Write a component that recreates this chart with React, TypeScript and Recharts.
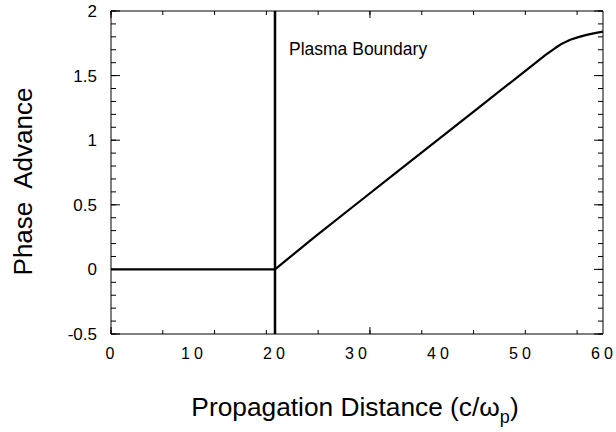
import React from "react";
import { LineChart, Line, XAxis, YAxis, ReferenceLine } from "recharts";

// propagation distance (c/ωp) and phase advance
const distance = [0, 10, 20, 25, 30, 35, 40, 45, 50, 52, 53, 54, 54.5, 55, 55.5, 56, 57, 58, 59, 60];
const phase = [0, 0, 0, 0.26, 0.51, 0.76, 1.01, 1.26, 1.51, 1.61, 1.66, 1.705, 1.727, 1.747, 1.763, 1.777, 1.798, 1.815, 1.829, 1.84];

const xTicks = [0, 10, 20, 30, 40, 50, 60];
const yTicks = [-0.5, 0, 0.5, 1, 1.5, 2];
const xMinorTicks = [0, 2, 4, 6, 8, 10, 12, 14, 16, 18, 20, 22, 24, 26, 28, 30, 32, 34, 36, 38, 40, 42, 44, 46, 48, 50, 52, 54, 56, 58, 60];
const yMinorTicks = [-0.5, -0.4, -0.3, -0.2, -0.1, 0, 0.1, 0.2, 0.3, 0.4, 0.5, 0.6, 0.7, 0.8, 0.9, 1, 1.1, 1.2, 1.3, 1.4, 1.5, 1.6, 1.7, 1.8, 1.9, 2];

const boundaryAt = 20;
const boundaryLabel = "Plasma Boundary";

const data = distance.map((x, i) => ({ x, phase: phase[i] }));

const FONT = "'Liberation Sans', Arial, Helvetica, sans-serif";
const X_DOMAIN: [number, number] = [0, 60];
const Y_DOMAIN: [number, number] = [-0.5, 2];
// CartesianAxis skips drawing at size 0, so the tick-only axes get a hairline size
const THIN = 0.01;

// draws nothing; keeps the tick lines of the mark-only axes
const NoLabel = () => <g />;

function XTick(props: any) {
  const { x, y, payload } = props;
  return (
    <text x={x + 1} y={y} dy="0.71em" textAnchor="middle" fontSize={16} fontFamily={FONT} fill="#000" letterSpacing={4}>
      {payload.value}
    </text>
  );
}

function XTitle(props: any) {
  const { x, y, width } = props.viewBox;
  return (
    <text x={x + width / 2 - 2} y={y + 82} textAnchor="middle" fontSize={26.3} fontFamily={FONT} fill="#000">
      <tspan>Propagation Distance (c/ω</tspan>
      <tspan fontSize={18} dy={7}>p</tspan>
      <tspan dy={-7}>)</tspan>
    </text>
  );
}

function YTitle(props: any) {
  const { y, height } = props.viewBox;
  const cx = 32;
  const cy = y + height / 2 + 9;
  return (
    <text x={cx} y={cy} transform={`rotate(-90, ${cx}, ${cy})`} textAnchor="middle" fontSize={26} fontFamily={FONT} fill="#000" style={{ whiteSpace: "pre" }}>
      {"Phase  Advance"}
    </text>
  );
}

function BoundaryLabel(props: any) {
  const { x, y } = props.viewBox;
  return (
    <text x={x + 14} y={y + 44} fontSize={17.5} fontFamily={FONT} fill="#000">
      {boundaryLabel}
    </text>
  );
}

const tickMark = { stroke: "#000", strokeWidth: 1 };
const frame = { stroke: "#000", strokeWidth: 1 };

export default function App() {
  return (
    <div style={{ position: "absolute", left: 0, top: 0, background: "#fff" }}>
      <LineChart width={616} height={432} data={data} margin={{ top: 11, right: 13, left: 0, bottom: 0 }}>
        {/* main axes with labels */}
        <XAxis
          xAxisId="x"
          dataKey="x"
          type="number"
          domain={X_DOMAIN}
          allowDataOverflow
          ticks={xTicks}
          interval={0}
          height={98}
          tickLine={false}
          tickMargin={8}
          axisLine={frame}
          tick={<XTick />}
          label={<XTitle />}
        />
        <YAxis
          yAxisId="y"
          type="number"
          domain={Y_DOMAIN}
          allowDataOverflow
          ticks={yTicks}
          interval={0}
          width={111}
          tickLine={false}
          tickMargin={8}
          axisLine={frame}
          tick={{ fontSize: 17, fill: "#000", fontFamily: FONT }}
          label={<YTitle />}
        />

        {/* inward tick marks on all four sides */}
        <XAxis xAxisId="bMinor" orientation="bottom" mirror height={THIN} type="number" domain={X_DOMAIN} allowDataOverflow ticks={xMinorTicks} interval={0} tickSize={4} tick={<NoLabel />} tickLine={tickMark} axisLine={false} />
        <XAxis xAxisId="bMajor" orientation="bottom" mirror height={THIN} type="number" domain={X_DOMAIN} allowDataOverflow ticks={xTicks} interval={0} tickSize={7} tick={<NoLabel />} tickLine={tickMark} axisLine={false} />
        <XAxis xAxisId="tMinor" orientation="top" mirror height={THIN} type="number" domain={X_DOMAIN} allowDataOverflow ticks={xMinorTicks} interval={0} tickSize={4} tick={<NoLabel />} tickLine={tickMark} axisLine={frame} />
        <XAxis xAxisId="tMajor" orientation="top" mirror height={THIN} type="number" domain={X_DOMAIN} allowDataOverflow ticks={xTicks} interval={0} tickSize={7} tick={<NoLabel />} tickLine={tickMark} axisLine={false} />
        <YAxis yAxisId="lMinor" orientation="left" mirror width={THIN} type="number" domain={Y_DOMAIN} allowDataOverflow ticks={yMinorTicks} interval={0} tickSize={5} tick={<NoLabel />} tickLine={tickMark} axisLine={false} />
        <YAxis yAxisId="lMajor" orientation="left" mirror width={THIN} type="number" domain={Y_DOMAIN} allowDataOverflow ticks={yTicks} interval={0} tickSize={9} tick={<NoLabel />} tickLine={tickMark} axisLine={false} />
        <YAxis yAxisId="rMinor" orientation="right" mirror width={THIN} type="number" domain={Y_DOMAIN} allowDataOverflow ticks={yMinorTicks} interval={0} tickSize={5} tick={<NoLabel />} tickLine={tickMark} axisLine={frame} />
        <YAxis yAxisId="rMajor" orientation="right" mirror width={THIN} type="number" domain={Y_DOMAIN} allowDataOverflow ticks={yTicks} interval={0} tickSize={9} tick={<NoLabel />} tickLine={tickMark} axisLine={false} />

        <ReferenceLine
          xAxisId="x"
          yAxisId="y"
          x={boundaryAt}
          stroke="#000"
          strokeWidth={2.5}
          label={<BoundaryLabel />}
        />
        <Line
          xAxisId="x"
          yAxisId="y"
          dataKey="phase"
          type="linear"
          stroke="#000"
          strokeWidth={2.2}
          dot={false}
          activeDot={false}
          isAnimationActive={false}
        />
      </LineChart>
    </div>
  );
}
